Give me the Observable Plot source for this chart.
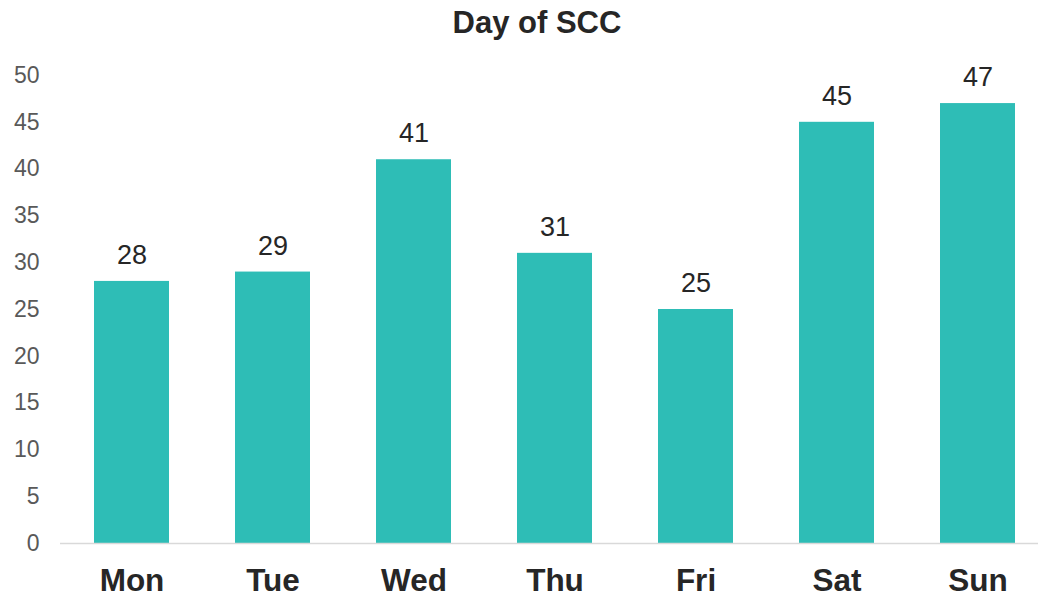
<!DOCTYPE html>
<html><head><meta charset="utf-8">
<script src="https://cdn.jsdelivr.net/npm/d3@7"></script>
<script src="https://cdn.jsdelivr.net/npm/@observablehq/plot@0.6"></script>
<style>
body{margin:0;background:#fff;font-family:"Liberation Sans",Arial,sans-serif;}
#title{height:44px;line-height:46px;text-align:center;font-weight:bold;font-size:31px;color:#262626;padding-left:36px;}
</style></head><body>
<div id="title">Day of SCC</div>
<div id="chart"></div>
<script>
const days = ["Mon","Tue","Wed","Thu","Fri","Sat","Sun"];
const counts = [28,29,41,31,25,45,47];
const yTicks = [0,5,10,15,20,25,30,35,40,45,50];

const data = days.map((d,i)=>({day:d,count:counts[i]}));
const font = '"Liberation Sans",Arial,sans-serif';
const plot = Plot.plot({
  width:1038, height:552,
  marginTop:31, marginBottom:53, marginLeft:60, marginRight:0,
  style:{fontFamily:font, background:"#fff", overflow:"visible"},
  x:{domain:days, range:[60,1048], paddingInner:0.47, paddingOuter:0.235, label:null},
  y:{domain:[0,50], label:null},
  marks:[
    Plot.barY(data,{x:"day", y:"count", fill:"#2EBDB6"}),
    Plot.ruleY([0],{stroke:"#D9D9D9", strokeWidth:1.5}),
    Plot.axisY({ticks:yTicks, tickSize:0, tickPadding:21, fontSize:23, fill:"#595959", label:null}),
    Plot.axisX({tickSize:0, tickPadding:25, fontSize:31.5, fontWeight:"bold", fill:"#262626", label:null}),
    Plot.text(data,{x:"day", y:"count", text:d=>String(d.count), dy:-26, fontSize:27, fill:"#262626", lineAnchor:"middle"})
  ]
});
document.getElementById("chart").appendChild(plot);
</script>
</body></html>
